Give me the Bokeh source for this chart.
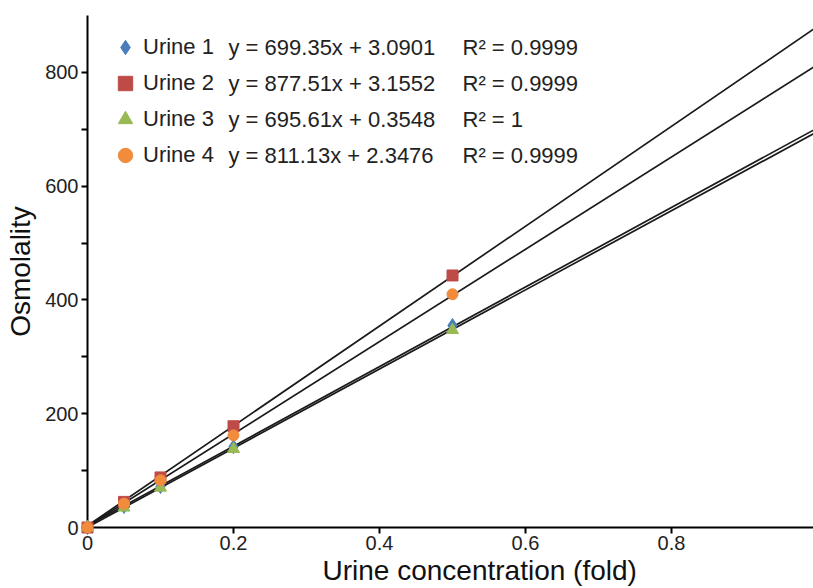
from bokeh.plotting import figure
from bokeh.models import (Slope, Legend, LegendItem, Label, FixedTicker, Range1d, Title)
from bokeh.embed import file_html
from bokeh.resources import INLINE

# ---- data ----
conc = [0, 0.05, 0.1, 0.2, 0.5]
urine1 = [0, 37, 72, 142, 355]
urine2 = [0, 45, 88, 178, 443]
urine3 = [0, 35, 70, 138, 347]
urine4 = [0, 42, 83, 162, 410]
series_names = ["Urine 1", "Urine 2", "Urine 3", "Urine 4"]
slopes = [699.35, 877.51, 695.61, 811.13]
intercepts = [3.0901, 3.1552, 0.3548, 2.3476]
equations = ["y = 699.35x + 3.0901", "y = 877.51x + 3.1552",
             "y = 695.61x + 0.3548", "y = 811.13x + 2.3476"]
r2_labels = ["R² = 0.9999", "R² = 0.9999", "R² = 1", "R² = 0.9999"]
x_ticks = [0, 0.2, 0.4, 0.6, 0.8]
y_ticks = [0, 100, 200, 300, 400, 500, 600, 700, 800]

colors = ["#4A7EBB", "#BE4B48", "#98B954", "#F08C3C"]
markers = ["diamond", "square", "triangle", "circle"]
msizes = [14, 11, 12, 11]
FONT = "Liberation Sans"

p = figure(width=813, height=588, output_backend="svg", toolbar_location=None,
           x_range=Range1d(0, 0.9945), y_range=Range1d(0, 900),
           min_border_left=87, min_border_right=0, min_border_top=15,
           min_border_bottom=61)
p.outline_line_color = None
p.xgrid.grid_line_color = None
p.ygrid.grid_line_color = None
p.background_fill_color = "white"
p.border_fill_color = "white"

renderers = []
for ys, c, m, s in zip([urine1, urine2, urine3, urine4], colors, markers, msizes):
    r = p.scatter(conc, ys, marker=m, size=s, fill_color=c, line_color=c,
                  line_width=1, level="overlay")
    renderers.append(r)

for k, b in zip(slopes, intercepts):
    p.add_layout(Slope(gradient=k, y_intercept=b, line_color="#1a1a1a",
                       line_width=1.7))

for ax in (p.xaxis[0], p.yaxis[0]):
    ax.axis_line_width = 2
    ax.axis_line_color = "black"
    ax.major_tick_line_color = "black"
    ax.major_tick_line_width = 2
    ax.major_tick_out = 6
    ax.major_tick_in = 0
    ax.minor_tick_line_color = None
    ax.major_label_text_font = FONT
    ax.major_label_text_font_size = "20px"
    ax.major_label_text_color = "#222222"
    ax.axis_label_text_font = FONT
    ax.axis_label_text_font_size = "28px"
    ax.axis_label_text_font_style = "normal"
    ax.axis_label_text_color = "#111111"

p.xaxis[0].ticker = FixedTicker(ticks=x_ticks)
p.xaxis[0].major_label_overrides = {0: "0"}
p.xaxis[0].major_label_standoff = 2

p.yaxis[0].ticker = FixedTicker(ticks=y_ticks)
p.yaxis[0].major_label_overrides = {t: ("" if t % 200 else str(t)) for t in y_ticks}
p.yaxis[0].axis_label = "Osmolality"
p.yaxis[0].major_label_standoff = 3
p.yaxis[0].axis_label_standoff = 6

p.add_layout(Title(text="Urine concentration (fold)", align="left", offset=235,
                   text_font=FONT, text_font_size="28px", text_font_style="normal",
                   text_color="#111111", standoff=0), "below")

legend = Legend(items=[LegendItem(label=n, renderers=[r]) for n, r in zip(series_names, renderers)],
                location=(20, 354), orientation="vertical",
                glyph_width=36, glyph_height=36, spacing=0, padding=0, margin=0,
                label_standoff=0, label_text_font=FONT, label_text_font_size="22px",
                label_text_color="#222222", border_line_color=None,
                background_fill_alpha=0)
p.add_layout(legend)

row_y = [480, 444, 408, 372]
for eq, r2, yy in zip(equations, r2_labels, row_y):
    p.add_layout(Label(x=141, y=yy, x_units="screen", y_units="screen", text=eq,
                       text_font=FONT, text_font_size="22px", text_color="#222222",
                       text_baseline="middle"))
    p.add_layout(Label(x=375, y=yy, x_units="screen", y_units="screen", text=r2,
                       text_font=FONT, text_font_size="22px", text_color="#222222",
                       text_baseline="middle"))

open("out.html", "w").write(file_html(p, INLINE))
